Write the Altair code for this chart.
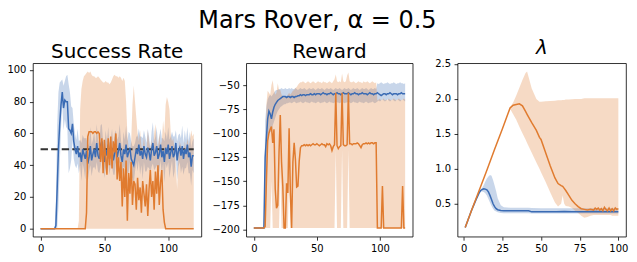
import altair as alt
import pandas as pd

BLUE = "#3a6bb4"
ORANGE = "#e07b2f"
FONT = "DejaVu Sans"

# ---------------- Success Rate (x = 0..120) ----------------
sr_x = list(range(121))
sr_blue = [0] * 12 + [
    2, 25, 50, 66, 78, 86, 76, 81, 80, 80,
    63, 62, 60, 66, 55, 50, 47, 52, 45, 48,
    42, 50, 47, 44, 49, 41, 45, 52, 43, 47,
    50, 45, 54, 46, 44, 52, 55, 47, 42, 50,
    46, 53, 44, 48, 51, 43, 47, 52, 45, 49,
    54, 46, 42, 50, 47, 53, 45, 48, 51, 44,
    42, 40, 45, 50, 47, 53, 46, 49, 44, 52,
    47, 45, 51, 48, 43, 50, 54, 46, 48, 52,
    44, 47, 53, 45, 49, 42, 51, 47, 53, 44,
    48, 52, 45, 47, 54, 43, 49, 51, 46, 52,
    44, 50, 47, 53, 45, 48, 39, 46, 46,
]
sr_blue_spread = [0] * 12 + [
    15, 40, 36, 26, 15, 8, 14, 12, 16, 17,
    28, 24, 17, 10, 11, 10, 9, 11, 10, 8,
    12, 9, 10, 13, 8, 11, 9, 12, 10, 9,
    11, 8, 12, 10, 9, 13, 11, 8, 10, 12,
    9, 11, 10, 8, 12, 9, 13, 10, 11, 9,
    12, 10, 8, 11, 9, 12, 10, 13, 9, 11,
    10, 12, 9, 8, 11, 10, 12, 9, 13, 10,
    11, 9, 12, 10, 8, 11, 13, 9, 10, 12,
    9, 11, 10, 12, 8, 13, 10, 9, 11, 12,
    10, 9, 13, 11, 8, 12, 10, 9, 11, 13,
    10, 12, 9, 11, 10, 13, 12, 9, 11,
]
sr_orange = [0] * 36 + [
    10, 58, 61, 61, 61, 60, 61, 61, 60, 61,
    60, 42, 57, 35, 56, 45, 34, 57, 40, 58,
    38, 55, 48, 60, 31, 45, 30, 42, 14, 38,
    20, 43, 5, 35, 22, 42, 15, 30, 28, 12,
    32, 18, 26, 10, 30, 22, 14, 28, 8, 25,
    37, 20, 30, 12, 36, 22, 40, 15, 29, 37,
    12, 4, 0,
] + [0] * 22
sr_orange_hi = [0] * 30 + [
    5, 75, 88, 93, 96, 97, 98, 99, 98, 99,
    97, 96, 96, 95, 95, 96, 95, 94, 93, 92,
    92, 93, 92, 92, 91, 92, 94, 96, 97, 96,
    96, 95, 96, 95, 93, 95, 93, 80, 60, 50,
    48, 55, 78, 90, 80, 70, 60, 55, 62, 52,
    50, 58, 50, 48, 62, 55, 50, 56, 48, 60,
    66, 55, 50, 60, 52, 55, 68, 60, 78, 83,
    80, 75, 60, 55, 57, 50, 40, 25, 45, 55,
    52, 50, 45, 55, 50, 57, 52, 55, 62, 58,
    60,
]
sr_orange_lo = [0] * 121
threshold_y = [50]
threshold_x = [0, 120]

# ---------------- Reward (x = 0..120) ----------------
rw_x = list(range(121))
rw_blue = [-198.5] * 9 + [
    -125, -105, -85, -77, -80, -85, -78, -73, -70, -68,
    -66, -65, -64, -63, -62, -62, -62, -63, -62, -62,
    -63, -62, -62, -63, -62, -62, -61, -61, -60, -61,
    -60, -60, -61, -60, -60, -60, -59, -60, -60, -59,
    -60, -59, -59, -59, -60, -59, -58, -59, -59, -60,
    -59, -59, -58, -59, -60, -59, -59, -58, -59, -59,
    -60, -59, -58, -59, -59, -59, -58, -59, -60, -59,
    -59, -58, -59, -59, -60, -59, -59, -58, -59, -59,
    -59, -60, -59, -58, -59, -59, -60, -59, -59, -58,
    -59, -60, -61, -60, -59, -59, -60, -59, -59, -58,
    -59, -60, -59, -59, -59, -60, -59, -59, -58, -59,
    -59, -59,
]
rw_blue_hi = [-198.5] * 9 + [
    -87, -72, -65, -62, -60, -62, -60, -58, -56, -55,
    -55, -54, -54, -53, -54, -54, -53, -54, -54, -53,
    -54, -53, -54, -54, -53, -54, -55, -54, -53, -54,
    -54, -53, -54, -55, -54, -53, -54, -54, -53, -54,
    -55, -54, -53, -54, -54, -53, -54, -55, -54, -53,
    -54, -54, -53, -54, -55, -54, -53, -54, -54, -53,
    -54, -55, -54, -53, -54, -54, -53, -54, -55, -54,
    -53, -54, -54, -53, -54, -55, -54, -53, -54, -54,
    -53, -54, -55, -54, -53, -54, -54, -53, -54,
    -48, -49, -48, -47, -48, -49, -48, -48, -47, -48,
    -49, -48, -48, -47, -48, -49, -48, -48, -47, -48,
    -48, -49, -48,
]
rw_blue_lo = [-198.5] * 9 + [
    -200, -160, -110, -100, -98, -100, -92, -88, -84, -80,
    -77, -75, -73, -72, -71, -70, -70, -69, -69, -68,
    -68, -69, -68, -67, -68, -69, -68, -68, -67, -68,
    -69, -68, -67, -68, -68, -69, -68, -67, -68, -68,
    -69, -68, -67, -68, -69, -68, -68, -67, -68, -69,
    -68, -67, -68, -68, -69, -68, -67, -68, -68, -69,
    -68, -67, -68, -69, -68, -68, -67, -68, -69, -68,
    -67, -68, -68, -69, -68, -67, -68, -68, -69, -68,
    -67, -68, -69, -68, -68, -67, -68, -69, -68, -67,
    -66, -67, -66, -65, -66, -67, -66, -65, -66, -67,
    -66, -65, -66, -67, -66, -65, -66, -67, -66, -65,
    -66, -67,
]
rw_orange = [-198.5] * 9 + [
    -197, -150, -108, -100, -96, -93, -110, -96, -158, -178,
    -175, -120, -81, -130, -155, -198.5, -198.5, -152, -162, -95,
    -162, -198.5, -130, -110, -127, -156, -155, -129, -115, -113,
    -113, -112, -113, -112, -113, -112, -113, -112, -111, -112,
    -112, -111, -112, -113, -112, -111, -112, -112, -114, -111,
    -112, -111, -113, -118, -114, -112, -58, -113, -116, -114,
    -113, -58, -112, -113, -113, -112, -58, -111, -111, -112,
    -111, -111, -111, -110, -111, -113, -115, -112, -111, -111,
    -110, -111, -110, -111, -110, -110, -111, -110, -110, -198.5,
    -198.5, -198.5, -198.5, -155, -198.5, -198.5, -198.5, -198.5, -198.5, -198.5,
    -198.5, -198.5, -198.5, -198.5, -198.5, -198.5, -198.5, -198.5, -198.5, -155,
    -198.5, -198.5,
]
rw_orange_hi = [-198.5] * 9 + [
    -150, -70, -56, -58, -60, -50, -45, -55, -60, -58,
    -48, -55, -55, -60, -62, -62, -63, -62, -60, -58,
    -60, -58, -56, -55, -53, -52, -50, -48, -47, -47,
    -46, -47, -48, -47, -46, -47, -48, -47, -46, -47,
    -48, -47, -46, -47, -47, -48, -46, -47, -47, -48,
    -47, -46, -47, -48, -46, -44, -39, -46, -47, -46,
    -47, -38, -46, -47, -46, -40, -37, -46, -47, -47,
    -46, -47, -48, -47, -46, -47, -47, -48, -46, -47,
    -47, -46, -47, -48, -47, -46, -47, -48, -47, -66,
    -65, -64, -66, -65, -64, -66, -65, -66, -64, -65,
    -66, -65, -64, -65, -66, -65, -64, -65, -66, -65,
    -64, -65,
]
rw_orange_lo = [-198.5] * 14 + [-150] + [-198.5] * 6 + [-140] + [-198.5] * 6 + [-145] \
    + [-198.5] * 36 + [-118] + [-198.5] * 4 + [-118] + [-198.5] * 4 + [-118] + [-198.5] * 45

# ---------------- Lambda (x = 1..100) ----------------
lam_o_x = [1, 5, 10, 15, 20, 25, 30, 32, 34, 36, 38, 40, 41, 44, 47, 49, 50, 53, 56, 59,
           61, 63, 64, 65, 66, 68, 70, 72, 74, 76, 78, 80, 82, 84, 85, 86, 87, 88, 89, 90,
           91, 92, 93, 94, 95, 96, 97, 98, 99, 100]
lam_o = [0.16, 0.40, 0.69, 0.98, 1.28, 1.57, 1.87, 1.91, 1.92, 1.93, 1.90, 1.82, 1.78, 1.66, 1.55, 1.45, 1.42, 1.23, 1.04, 0.87,
         0.79, 0.76, 0.75, 0.72, 0.69, 0.62, 0.55, 0.50, 0.46, 0.43, 0.42, 0.41, 0.42, 0.41, 0.44, 0.42, 0.44, 0.41, 0.43, 0.40,
         0.45, 0.42, 0.40, 0.44, 0.40, 0.43, 0.40, 0.44, 0.42, 0.43]
lam_o_lo = [0.16, 0.40, 0.69, 0.98, 1.28, 1.57, 1.86, 1.78, 1.70, 1.60, 1.51, 1.42, 1.37, 1.23, 1.09, 1.00, 0.95, 0.81, 0.66, 0.52,
            0.46, 0.50, 0.62, 0.50, 0.47, 0.46, 0.44, 0.40, 0.37, 0.33, 0.30, 0.31, 0.33, 0.34, 0.34, 0.34, 0.34, 0.34, 0.34, 0.34,
            0.34, 0.34, 0.34, 0.34, 0.34, 0.33, 0.33, 0.33, 0.33, 0.33]
lam_o_hi = [0.16, 0.40, 0.69, 0.98, 1.28, 1.57, 1.88, 1.95, 2.05, 2.16, 2.27, 2.37, 2.39, 2.15, 2.00, 1.96, 1.96, 1.965, 1.97, 1.975,
            1.98, 1.98, 1.985, 1.985, 1.99, 1.99, 1.995, 2.0, 2.0, 2.0, 2.01, 2.01, 2.01, 2.01, 2.01, 2.01, 2.01, 2.01, 2.01, 2.01,
            2.01, 2.01, 2.01, 2.01, 2.01, 2.01, 2.01, 2.01, 2.01, 2.01]
lam_b_x = [1, 5, 8, 10, 11, 12, 13, 14, 15, 16, 17, 18, 19, 20, 21, 22, 24, 26, 30, 35,
           40, 42, 44, 50, 55, 60, 65, 70, 75, 80, 85, 90, 95, 100]
lam_b = [0.16, 0.40, 0.56, 0.655, 0.69, 0.705, 0.715, 0.71, 0.70, 0.67, 0.62, 0.56, 0.50, 0.46, 0.43, 0.415, 0.405, 0.40, 0.40, 0.40,
         0.40, 0.40, 0.385, 0.385, 0.385, 0.385, 0.39, 0.385, 0.385, 0.385, 0.39, 0.385, 0.385, 0.385]
lam_b_lo = [0.16, 0.40, 0.56, 0.645, 0.675, 0.675, 0.67, 0.65, 0.62, 0.57, 0.52, 0.47, 0.43, 0.40, 0.39, 0.38, 0.37, 0.365, 0.365, 0.365,
            0.365, 0.365, 0.36, 0.36, 0.36, 0.36, 0.36, 0.36, 0.36, 0.36, 0.36, 0.36, 0.36, 0.36]
lam_b_hi = [0.16, 0.40, 0.56, 0.665, 0.70, 0.73, 0.77, 0.82, 0.86, 0.89, 0.91, 0.90, 0.84, 0.76, 0.68, 0.58, 0.48, 0.45, 0.445, 0.445,
            0.445, 0.445, 0.44, 0.435, 0.435, 0.435, 0.435, 0.435, 0.435, 0.435, 0.435, 0.435, 0.435, 0.435]


def frame(x, m, lo, hi):
    return pd.DataFrame({"x": x, "m": m, "lo": lo, "hi": hi})


sr_b = frame(sr_x, sr_blue,
             [max(0, a - s) for a, s in zip(sr_blue, sr_blue_spread)],
             [min(100, a + s) for a, s in zip(sr_blue, sr_blue_spread)])
sr_o = frame(sr_x, sr_orange, sr_orange_lo, sr_orange_hi)
rw_b = frame(rw_x, rw_blue, rw_blue_lo, rw_blue_hi)
rw_o = frame(rw_x, rw_orange, rw_orange_lo, rw_orange_hi)
lm_b = frame(lam_b_x, lam_b, lam_b_lo, lam_b_hi)
lm_o = frame(lam_o_x, lam_o, lam_o_lo, lam_o_hi)

YEXT = 24


def panel(b, o, xdom, ydom, xticks, yticks, yfmt, title, width, italic=False, extra=None):
    xs = alt.X("x:Q", scale=alt.Scale(domain=xdom, nice=False, zero=False),
               axis=alt.Axis(values=xticks, format="d", title=None))
    ysc = alt.Scale(domain=ydom, nice=False, zero=False)
    yax = alt.Axis(values=yticks, format=yfmt, title=None, minExtent=YEXT, maxExtent=YEXT)
    layers = []
    for df, col in ((b, BLUE), (o, ORANGE)):
        layers.append(alt.Chart(df).mark_area(opacity=0.28, color=col, strokeWidth=0).encode(
            x=xs, y=alt.Y("lo:Q", scale=ysc, axis=yax), y2="hi:Q"))
    if extra is not None:
        layers.append(extra)
    for df, col in ((b, BLUE), (o, ORANGE)):
        layers.append(alt.Chart(df).mark_line(color=col, strokeWidth=1.5).encode(
            x=xs, y=alt.Y("m:Q", scale=ysc, axis=yax)))
    tp = dict(text=title, fontSize=20, font=FONT, fontWeight="normal", color="black",
              anchor="middle", baseline="alphabetic", offset=-15)
    if italic:
        tp["fontStyle"] = "italic"
    return alt.layer(*layers).properties(width=width, height=174, title=alt.TitleParams(**tp))


thr = pd.DataFrame({"x": [threshold_x[0]], "x2": [threshold_x[1]], "y": threshold_y})
dash = alt.Chart(thr).mark_rule(color="#333333", strokeWidth=2, strokeDash=[7.4, 3.2]).encode(
    x=alt.X("x:Q", scale=alt.Scale(domain=[-6, 126], nice=False, zero=False),
            axis=alt.Axis(values=[0, 50, 100], format="d", title=None)),
    x2="x2:Q",
    y=alt.Y("y:Q", scale=alt.Scale(domain=[-5, 104.2], nice=False, zero=False),
            axis=alt.Axis(values=[0, 20, 40, 60, 80, 100], format="d", title=None,
                          minExtent=YEXT, maxExtent=YEXT)))

p1 = panel(sr_b, sr_o, [-6, 126], [-5, 104.2], [0, 50, 100], [0, 20, 40, 60, 80, 100], "d",
           "Success Rate", 169, extra=dash)
p2 = panel(rw_b, rw_o, [-6, 126], [-207.5, -27.3], [0, 50, 100],
           [-200, -175, -150, -125, -100, -75, -50], "d", "Reward", 167)
p3 = panel(lm_b, lm_o, [-3.95, 104.95], [0.03, 2.51], [0, 25, 50, 75, 100],
           [0.5, 1.0, 1.5, 2.0, 2.5], ".1f", "λ", 169, italic=True)

chart = alt.hconcat(p1, p2, p3, spacing=45, bounds="flush").properties(
    title=alt.TitleParams(text="Mars Rover, α = 0.5", fontSize=24, font=FONT, fontWeight="normal",
                          color="black", anchor="middle", baseline="alphabetic", offset=-14),
    padding={"left": -2, "top": 0, "right": 0, "bottom": 0},
).configure_view(stroke="black", strokeWidth=0.8).configure_axis(
    domain=False, grid=False, ticks=True, tickSize=3.5, tickWidth=0.8, tickColor="black",
    labelFont=FONT, labelFontSize=10, labelColor="black", labelPadding=3.5,
)

chart.save("out.html", embed_options={"renderer": "svg", "actions": False})
